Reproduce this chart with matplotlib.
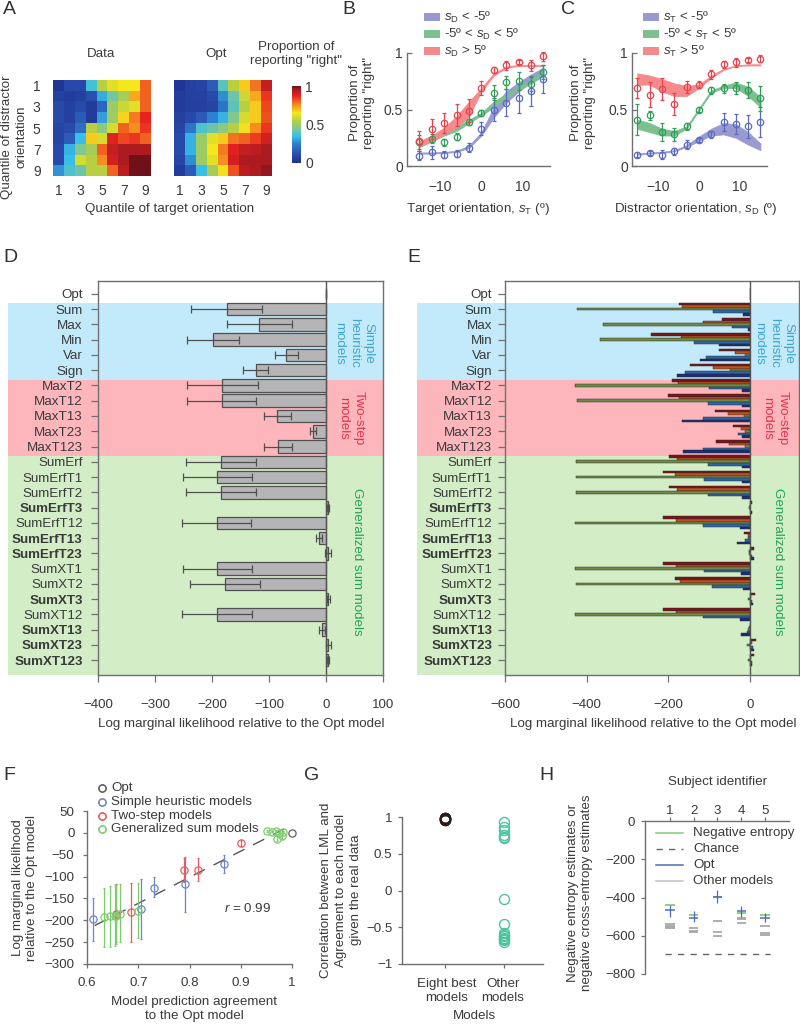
import numpy as np
import matplotlib
matplotlib.use('Agg')
import matplotlib.pyplot as plt
from matplotlib.patches import Rectangle
from matplotlib.lines import Line2D
from matplotlib.colors import LinearSegmentedColormap

plt.rcParams['font.family'] = ['Liberation Sans', 'DejaVu Sans']
plt.rcParams['mathtext.fontset'] = 'custom'
plt.rcParams['mathtext.rm'] = 'Liberation Sans'
plt.rcParams['mathtext.it'] = 'Liberation Sans:italic'
plt.rcParams['axes.unicode_minus'] = True

# ---------- data ----------
data_matrix = [
    [.03, .10, .10, .37, .55, .62, .65, .65, .80],
    [.07, .05, .07, .12, .32, .43, .52, .72, .80],
    [.10, .07, .10, .05, .18, .50, .58, .62, .80],
    [.10, .07, .15, .05, .30, .50, .67, .77, .87],
    [.08, .10, .20, .55, .47, .60, .80, .75, .85],
    [.08, .15, .35, .68, .60, .88, .83, .85, .80],
    [.10, .33, .45, .52, .80, .92, .95, .95, .95],
    [.10, .35, .60, .55, .75, .90, .95, 1.0, 1.0],
    [.28, .38, .42, .55, .55, .80, .93, 1.0, 1.0]]
opt_matrix = [
    [.03, .07, .08, .15, .40, .55, .68, .78, .92],
    [.05, .07, .07, .10, .27, .42, .58, .72, .85],
    [.05, .06, .06, .08, .22, .40, .55, .68, .83],
    [.07, .10, .15, .25, .33, .45, .60, .68, .82],
    [.08, .22, .38, .42, .47, .55, .66, .75, .85],
    [.10, .33, .50, .62, .68, .78, .80, .84, .90],
    [.10, .33, .50, .65, .77, .88, .92, .93, .95],
    [.08, .27, .50, .62, .75, .90, .95, .95, .95],
    [.05, .15, .35, .52, .66, .82, .93, .95, .97]]
quantile_ticks = [1, 3, 5, 7, 9]

orient = [-15, -12, -9, -6, -3, 0, 3, 6, 9, 12, 15]
b_red = [.22, .33, .38, .45, .49, .69, .85, .89, .92, .89, .97]
b_red_err = [.09, .09, .09, .10, .10, .06, .03, .04, .02, .05, .04]
b_green = [.21, .24, .21, .26, .39, .47, .65, .74, .75, .73, .83]
b_green_err = [.06, .04, .03, .03, .03, .03, .07, .06, .08, .07, .06]
b_blue = [.09, .12, .10, .11, .16, .33, .50, .56, .60, .66, .77]
b_blue_err = [.04, .06, .03, .03, .04, .06, .10, .12, .13, .13, .12]
b_red_lo = [.17, .22, .28, .34, .44, .66, .80, .87, .885, .885, .885]
b_red_hi = [.22, .27, .34, .44, .57, .69, .82, .88, .895, .895, .895]
b_green_lo = [.17, .22, .27, .31, .38, .45, .52, .60, .68, .73, .80]
b_green_hi = [.21, .25, .30, .35, .41, .47, .57, .64, .70, .76, .85]
b_blue_lo = [.11, .11, .115, .125, .16, .27, .43, .56, .66, .74, .80]
b_blue_hi = [.12, .12, .125, .135, .18, .30, .52, .66, .74, .81, .87]

c_red = [.69, .63, .68, .55, .70, .72, .81, .90, .92, .94, .95]
c_red_err = [.09, .11, .10, .10, .05, .03, .04, .03, .04, .02, .03]
c_green = [.41, .45, .30, .28, .35, .50, .67, .69, .69, .67, .60]
c_green_err = [.14, .04, .08, .06, .03, .02, .03, .04, .05, .07, .11]
c_blue = [.10, .115, .10, .13, .19, .23, .28, .39, .37, .35, .39]
c_blue_err = [.02, .015, .04, .03, .04, .02, .03, .08, .09, .10, .13]
c_red_lo = [.72, .72, .66, .62, .62, .69, .78, .85, .885, .89, .89]
c_red_hi = [.82, .80, .77, .73, .71, .72, .80, .86, .89, .90, .90]
c_green_lo = [.33, .30, .27, .27, .33, .49, .65, .69, .69, .62, .52]
c_green_hi = [.41, .38, .33, .31, .35, .51, .67, .71, .74, .70, .61]
c_blue_lo = [.10, .11, .115, .13, .17, .22, .27, .28, .25, .19, .14]
c_blue_hi = [.11, .12, .125, .14, .185, .26, .33, .38, .37, .30, .20]

model_names = ['Opt', 'Sum', 'Max', 'Min', 'Var', 'Sign', 'MaxT2', 'MaxT12', 'MaxT13', 'MaxT23', 'MaxT123',
               'SumErf', 'SumErfT1', 'SumErfT2', 'SumErfT3', 'SumErfT12', 'SumErfT13', 'SumErfT23',
               'SumXT1', 'SumXT2', 'SumXT3', 'SumXT12', 'SumXT13', 'SumXT23', 'SumXT123']
bold_models = ['SumErfT3', 'SumErfT13', 'SumErfT23', 'SumXT3', 'SumXT13', 'SumXT23', 'SumXT123']
d_mean = [0, -174, -117, -198, -70, -123, -182, -183, -86, -22, -84, -185, -191, -185, 3, -192, -12, 4,
          -191, -178, 4, -192, -7, 4, 3]
d_low = [0, -236, -173, -243, -89, -146, -244, -244, -109, -28, -108, -246, -251, -246, 1.5, -253, -17, -1,
         -251, -239, 1, -252, -12, 0, 1]
d_high = [0, -112, -60, -152, -50, -102, -120, -122, -61, -17, -60, -123, -129, -123, 4.5, -131, -7, 9,
          -129, -116, 7, -130, -2, 8, 5]
e_subj1 = [0, -175, -68, -242, -75, -147, -192, -200, -85, -41, -83, -198, -214, -198, 5, -214, -14, 11, -214, -184, 13, -212, -1, 15, 9]
e_subj2 = [0, -167, -116, -169, -37, -90, -177, -174, -53, -23, -51, -180, -184, -180, 1, -182, -4, -2, -181, -171, 2, -182, -2, 4, 3]
e_subj3 = [0, -424, -359, -367, -12, -49, -428, -423, -15, -12, -12, -427, -427, -427, -2, -429, -4, -3, -429, -427, -5, -429, -4, -7, -5]
e_subj4 = [0, -90, -43, -138, -108, -159, -100, -102, -116, -29, -116, -104, -113, -104, 1, -116, -12, 6, -113, -93, 4, -114, -8, 8, 4]
e_subj5 = [0, -16, -4, -76, -123, -180, -19, -20, -167, -19, -165, -20, -20, -20, 4, -24, -31, 10, -22, -18, 8, -24, -22, 10, 6]

f_opt_x = [1.0]
f_opt_y = [0]
f_blue_x = [.612, .706, .731, .792, .868]
f_blue_y = [-198, -175, -125, -117, -71]
f_blue_lo = [-248, -243, -147, -180, -91]
f_blue_hi = [-148, -105, -100, -55, -50]
f_red_x = [.900, .816, .790, .685, .657]
f_red_y = [-23, -84, -85, -182, -186]
f_red_lo = [-30, -110, -112, -250, -250]
f_red_hi = [-16, -58, -58, -115, -118]
f_green_x = [.633, .644, .655, .657, .664, .699, .952, .961, .968, .970, .975, .981, .983]
f_green_y = [-193, -190, -191, -190, -185, -178, 4, 3, 4, -13, -1, -8, 3]
f_green_lo = [-260, -260, -258, -255, -250, -240, 2, 1, 2, -18, -3, -13, 1]
f_green_hi = [-125, -122, -120, -120, -118, -115, 6, 5, 6, -8, 1, -3, 5]
f_fit_x = [.615, .997]
f_fit_y = [-212, 16]

g_best = [.99, .98, .97, .96, .98, .97, .99, .96]
g_other = [.93, .87, .82, .76, .73, .71, -.11, -.46, -.58, -.60, -.62, -.64, -.66, -.68, -.70]
g_labels = ['Eight best\nmodels', 'Other\nmodels']

subjects = [1, 2, 3, 4, 5]
h_entropy = [-440, -490, -395, -480, -490]
h_opt = [-465, -505, -395, -473, -505]
h_opt_lo = [-500, -530, -430, -503, -530]
h_opt_hi = [-440, -470, -360, -443, -480]
h_others = [[-540, -548, -555, -560], [-560, -575, -580], [-522, -578, -603], [-505, -515, -535], [-548, -585, -595]]
h_chance = -693
h_chance_x = [.8, 5.2]

# ---------- layout helpers ----------
W, H = 800, 1024
TXT = '#3a3a3a'
AXC = '#707070'
FS = 9.6
fig = plt.figure(figsize=(W / 100, H / 100), dpi=100)

heat_cmap = LinearSegmentedColormap.from_list('heat', [
    (0.0, '#1f2f8c'), (0.12, '#2a50b0'), (0.25, '#2f80d0'), (0.35, '#38c0e8'), (0.45, '#80c890'),
    (0.55, '#b8d040'), (0.65, '#f4e81c'), (0.75, '#f89020'), (0.87, '#e82420'), (0.95, '#b01c20'), (1.0, '#701018')])


def px_axes(l, t, r, b):
    ax = fig.add_axes([l / W, 1 - b / H, (r - l) / W, (b - t) / H])
    ax.patch.set_alpha(0)
    return ax


def T(x, y, s, size=FS, ha='center', va='center', color=TXT, **kw):
    kw.setdefault('linespacing', 1.32)
    return fig.text(x / W, 1 - y / H, s, fontsize=size, ha=ha, va=va, color=color, **kw)


def style(ax, sides):
    for k, sp in ax.spines.items():
        sp.set_visible(k in sides)
        sp.set_color(AXC)
        sp.set_linewidth(1.0)
    ax.tick_params(colors=TXT, color=AXC, labelsize=FS, width=0.9, length=4)


def Rect(l, t, r, b, color):
    fig.add_artist(Rectangle((l / W, 1 - b / H), (r - l) / W, (b - t) / H, transform=fig.transFigure,
                             facecolor=color, edgecolor='none', zorder=-5))


def legline(x0, x1, y, **kw):
    fig.add_artist(Line2D([x0 / W, x1 / W], [1 - y / H, 1 - y / H], transform=fig.transFigure, **kw))


for s, x, y in [('A', 3, 10), ('B', 342, 9), ('C', 561, 9), ('D', 3, 257), ('E', 407, 257),
                ('F', 3, 776), ('G', 304, 776), ('H', 539, 776)]:
    T(x, y, s, size=14, ha='left', color='#303030')

# ---------- A ----------
for (l, r, m) in [(53, 151, data_matrix), (174, 272, opt_matrix)]:
    ax = px_axes(l, 80, r, 176)
    im = ax.imshow(m, cmap=heat_cmap, vmin=0, vmax=1, aspect='auto', extent=(.5, 9.5, 9.5, .5))
    ax.set_xticks(quantile_ticks)
    style(ax, [])
    ax.tick_params(length=0, pad=6, labelsize=10)
    if l == 53:
        ax.set_yticks(quantile_ticks)
        ax.tick_params(axis='y', pad=9)
    else:
        ax.set_yticks([])
cax = px_axes(292, 86, 301, 163)
cb = fig.colorbar(im, cax=cax)
cb.set_ticks([0, .5, 1], labels=['0', '0.5', '1'])
cb.outline.set_visible(False)
cb.ax.tick_params(length=0, labelsize=10, colors=TXT, pad=3)
T(101, 54, 'Data')
T(216, 54, 'Opt')
T(296, 54, 'Proportion of\nreporting "right"')
T(14, 137, 'Quantile of distractor\norientation', rotation=90)
T(170, 209, 'Quantile of target orientation')

# ---------- B, C ----------
RED, GRN, BLU = '#e8434c', '#2f9e58', '#5a6cc0'
RB, GB, BB = '#f48a8c', '#7cc08f', '#9a9ad2'


def curves(ax, series):
    for lo, hi, y, e, band, c in series:
        ax.fill_between(orient, lo, hi, color=band, lw=0.6, zorder=1)
        ax.errorbar(orient, y, yerr=e, fmt='o', ms=4.6, mfc='none', mec=c, ecolor=c, elinewidth=0.9,
                    capsize=1.2, capthick=0.8, mew=0.9, zorder=3, clip_on=False)
    ax.set_ylim(0, 1)
    ax.set_yticks([0, .5, 1], labels=['0', '0.5', '1'])
    ax.set_xticks([-10, 0, 10], labels=['\u221210', '0', '10'])
    style(ax, ['left', 'bottom'])
    ax.tick_params(labelsize=10)
    ax.tick_params(axis='y', direction='in', length=3.5, pad=3)
    ax.tick_params(axis='x', length=0, pad=10)


axb = px_axes(407, 53, 550, 166)
axb.set_xlim(-18, 16.6)
curves(axb, [(b_blue_lo, b_blue_hi, b_blue, b_blue_err, BB, BLU),
             (b_green_lo, b_green_hi, b_green, b_green_err, GB, GRN),
             (b_red_lo, b_red_hi, b_red, b_red_err, RB, RED)])
axc = px_axes(632, 53, 767, 166)
axc.set_xlim(-16.3, 16.6)
curves(axc, [(c_blue_lo, c_blue_hi, c_blue, c_blue_err, BB, BLU),
             (c_green_lo, c_green_hi, c_green, c_green_err, GB, GRN),
             (c_red_lo, c_red_hi, c_red, c_red_err, RB, RED)])

for x0, sub, other in [(424, r'$\mathit{s}_{\mathrm{D}}$', 'D'), (643, r'$\mathit{s}_{\mathrm{T}}$', 'T')]:
    for y, band, s in [(17, BB, sub + ' < -5\u00ba'), (34, GB, '-5\u00ba < ' + sub + ' < 5\u00ba'), (51, RB, sub + ' > 5\u00ba')]:
        fig.add_artist(Rectangle((x0 / W, 1 - (y + 4) / H), 16 / W, 8 / H, transform=fig.transFigure,
                                 facecolor=band, edgecolor='none'))
        T(x0 + 20, y, s, ha='left')
T(362, 103, 'Proportion of\nreporting "right"', rotation=90)
T(583, 103, 'Proportion of\nreporting "right"', rotation=90)
T(478, 209, 'Target orientation, ' + r'$\mathit{s}_{\mathrm{T}}$' + ' (\u00ba)')
T(696, 209, 'Distractor orientation, ' + r'$\mathit{s}_{\mathrm{D}}$' + ' (\u00ba)')

# ---------- D, E backgrounds ----------
for l, r in [(8, 383), (417, 799)]:
    Rect(l, 303, r, 380, '#c3eafa')
    Rect(l, 380, r, 456, '#fdb6bb')
    Rect(l, 456, r, 675, '#d3edc6')

ypos = np.arange(len(model_names))


def barframe(ax, ypad):
    ax.set_ylim(24.98, -0.85)
    ax.set_yticks(ypos, labels=model_names)
    for lab, nm in zip(ax.get_yticklabels(), model_names):
        if nm in bold_models:
            lab.set_fontweight('bold')
    style(ax, ['left', 'right', 'top', 'bottom'])
    ax.tick_params(axis='both', length=5)
    ax.tick_params(axis='y', pad=ypad)
    ax.tick_params(axis='x', pad=12.5)
    ax.axvline(0, color='#555555', lw=1.0, zorder=4)


axd = px_axes(98, 281, 383, 675)
axd.barh(ypos, d_mean, height=0.82, color='#b5b5b8', edgecolor='#505050', linewidth=0.9, zorder=2)
xerr = [np.array(d_mean) - np.array(d_low), np.array(d_high) - np.array(d_mean)]
axd.errorbar(d_mean, ypos, xerr=xerr, fmt='none', ecolor='#505050', elinewidth=0.9, capsize=2.6, capthick=0.9, zorder=3)
axd.set_xlim(-400, 100)
axd.set_xticks([-400, -300, -200, -100, 0, 100], labels=['\u2212400', '\u2212300', '\u2212200', '\u2212100', '0', '100'])
barframe(axd, 6)

axe = px_axes(505, 281, 799, 675)
e_colors = ['#7a1414', '#c2501c', '#6f8a45', '#2a66a8', '#1c2c78']
for i, (vals, c) in enumerate(zip([e_subj1, e_subj2, e_subj3, e_subj4, e_subj5], e_colors)):
    axe.barh(ypos + (i - 2) * 0.165, vals, height=0.165, color=c, edgecolor='#303030', linewidth=0.35, zorder=2)
axe.set_xlim(-600, 120)
axe.set_xticks([-600, -400, -200, 0], labels=['\u2212600', '\u2212400', '\u2212200', '0'])
barframe(axe, 4.3)

for xs, xt, xg in [(354, 351, 357), (774, 775, 778)]:
    T(xs, 343, 'Simple\nheuristic\nmodels', rotation=270, color='#3fa5cf')
    T(xt, 418, 'Two-step\nmodels', rotation=270, color='#e9304a')
    T(xg, 562, 'Generalized sum models', rotation=270, color='#22a355')
T(241, 724, 'Log marginal likelihood relative to the Opt model')
T(653, 724, 'Log marginal likelihood relative to the Opt model')

# ---------- F ----------
axf = px_axes(87, 811, 292, 964)
FB, FR, FG, FO = '#6c86c8', '#ef5a60', '#7ccc6c', '#606060'
axf.plot(f_fit_x, f_fit_y, color='#555555', lw=1.0, dashes=(9, 7), zorder=1)
for x, y, lo, hi, c in [(f_blue_x, f_blue_y, f_blue_lo, f_blue_hi, FB), (f_red_x, f_red_y, f_red_lo, f_red_hi, FR),
                        (f_green_x, f_green_y, f_green_lo, f_green_hi, FG)]:
    x, y, lo, hi = map(np.array, (x, y, lo, hi))
    axf.errorbar(x, y, yerr=[y - lo, hi - y], fmt='o', ms=5.2, mfc='none', mec=c, ecolor=c, elinewidth=0.9,
                 capsize=1, capthick=0.7, mew=0.9, clip_on=False, zorder=3)
axf.plot(f_opt_x, f_opt_y, 'o', ms=5.2, mfc='none', mec=FO, mew=0.9, clip_on=False, zorder=3)
axf.set_xlim(.6, 1)
axf.set_ylim(-300, 50)
axf.set_xticks([.6, .7, .8, .9, 1], labels=['0.6', '0.7', '0.8', '0.9', '1'])
axf.set_yticks(np.arange(-300, 51, 50), labels=['\u2212300', '\u2212250', '\u2212200', '\u2212150', '\u2212100', '\u221250', '0', '50'])
style(axf, ['left', 'bottom'])
axf.tick_params(length=3, pad=6)
for y, c, s in [(788, FO, 'Opt'), (802, FB, 'Simple heuristic models'), (816, FR, 'Two-step models'),
                (829, FG, 'Generalized sum models')]:
    legline(102, 102, y, marker='o', ms=5.2, mfc='none', mec=c, mew=0.9, ls='none')
    T(111, y, s, ha='left')
T(224, 909, r'$\mathit{r}$ = 0.99', ha='left')
T(25, 888, 'Log marginal likelihood\nrelative to the Opt model', rotation=90)
T(194, 1009, 'Model prediction agreement\nto the Opt model')

# ---------- G ----------
axg = px_axes(402, 817, 543, 964)
axg.plot([0] * len(g_best), g_best, 'o', ms=7.2, mfc='none', mec='#8a1520', mew=1.0, clip_on=False)
axg.plot([0] * 4, g_best[2:6], 'o', ms=7.2, mfc='none', mec='#202020', mew=1.0, clip_on=False)
axg.plot([1] * len(g_other), g_other, 'o', ms=7.2, mfc='none', mec='#4cc39e', mew=1.0, clip_on=False)
axg.set_xlim(-.73, 1.66)
axg.set_ylim(-1, 1)
axg.set_xticks([0, 1], labels=['', ''])
axg.set_yticks([-1, -.5, 0, .5, 1], labels=['\u22121', '\u22120.5', '0', '0.5', '1'])
style(axg, ['left', 'bottom'])
axg.tick_params(length=3, pad=4)
T(447, 991, g_labels[0])
T(503, 991, g_labels[1])
T(474, 1016, 'Models')
T(341, 890, 'Correlation between LML and\nAgreement to each model\ngiven the real data', rotation=90)

# ---------- H ----------
axh = px_axes(645, 821, 789, 974)
axh.set_xlim(-.04, 6)
axh.set_ylim(-800, 0)
w = .2
for s, vals in zip(subjects, h_others):
    axh.hlines(vals, s - w, s + w, color='#a8a8a8', lw=1.3, zorder=1)
axh.plot(h_chance_x, [h_chance, h_chance], color='#666666', lw=1.0, dashes=(4.5, 4.5))
axh.hlines(h_entropy, np.array(subjects) - w, np.array(subjects) + w, color='#6cc85a', lw=1.1, zorder=2)
axh.vlines(subjects, h_opt_lo, h_opt_hi, color='#4a6cc0', lw=0.9, zorder=3)
axh.hlines(h_opt, np.array(subjects) - w, np.array(subjects) + w, color='#4a6cc0', lw=1.1, zorder=3)
axh.xaxis.tick_top()
axh.set_xticks(subjects)
axh.set_yticks([-800, -600, -400, -200, 0], labels=['\u2212800', '\u2212600', '\u2212400', '\u2212200', '0'])
style(axh, ['left', 'top'])
axh.tick_params(length=3, pad=4)
axh.tick_params(axis='x', pad=0)
legline(656, 683, 833, color='#7fd070', lw=1.1)
legline(656, 683, 849, color='#666666', lw=1.0, dashes=(4.5, 4.5))
legline(656, 683, 865, color='#4a6cc0', lw=1.1)
legline(656, 683, 881, color='#c0c0c0', lw=1.1)
for y, s in [(833, 'Negative entropy'), (849, 'Chance'), (865, 'Opt'), (881, 'Other models')]:
    T(693, y, s, ha='left')
T(718, 782, 'Subject identifier')
T(580, 893, 'Negative entropy estimates or\nnegative cross-entropy estimates', rotation=90)

fig.savefig('out.png', dpi=100)
